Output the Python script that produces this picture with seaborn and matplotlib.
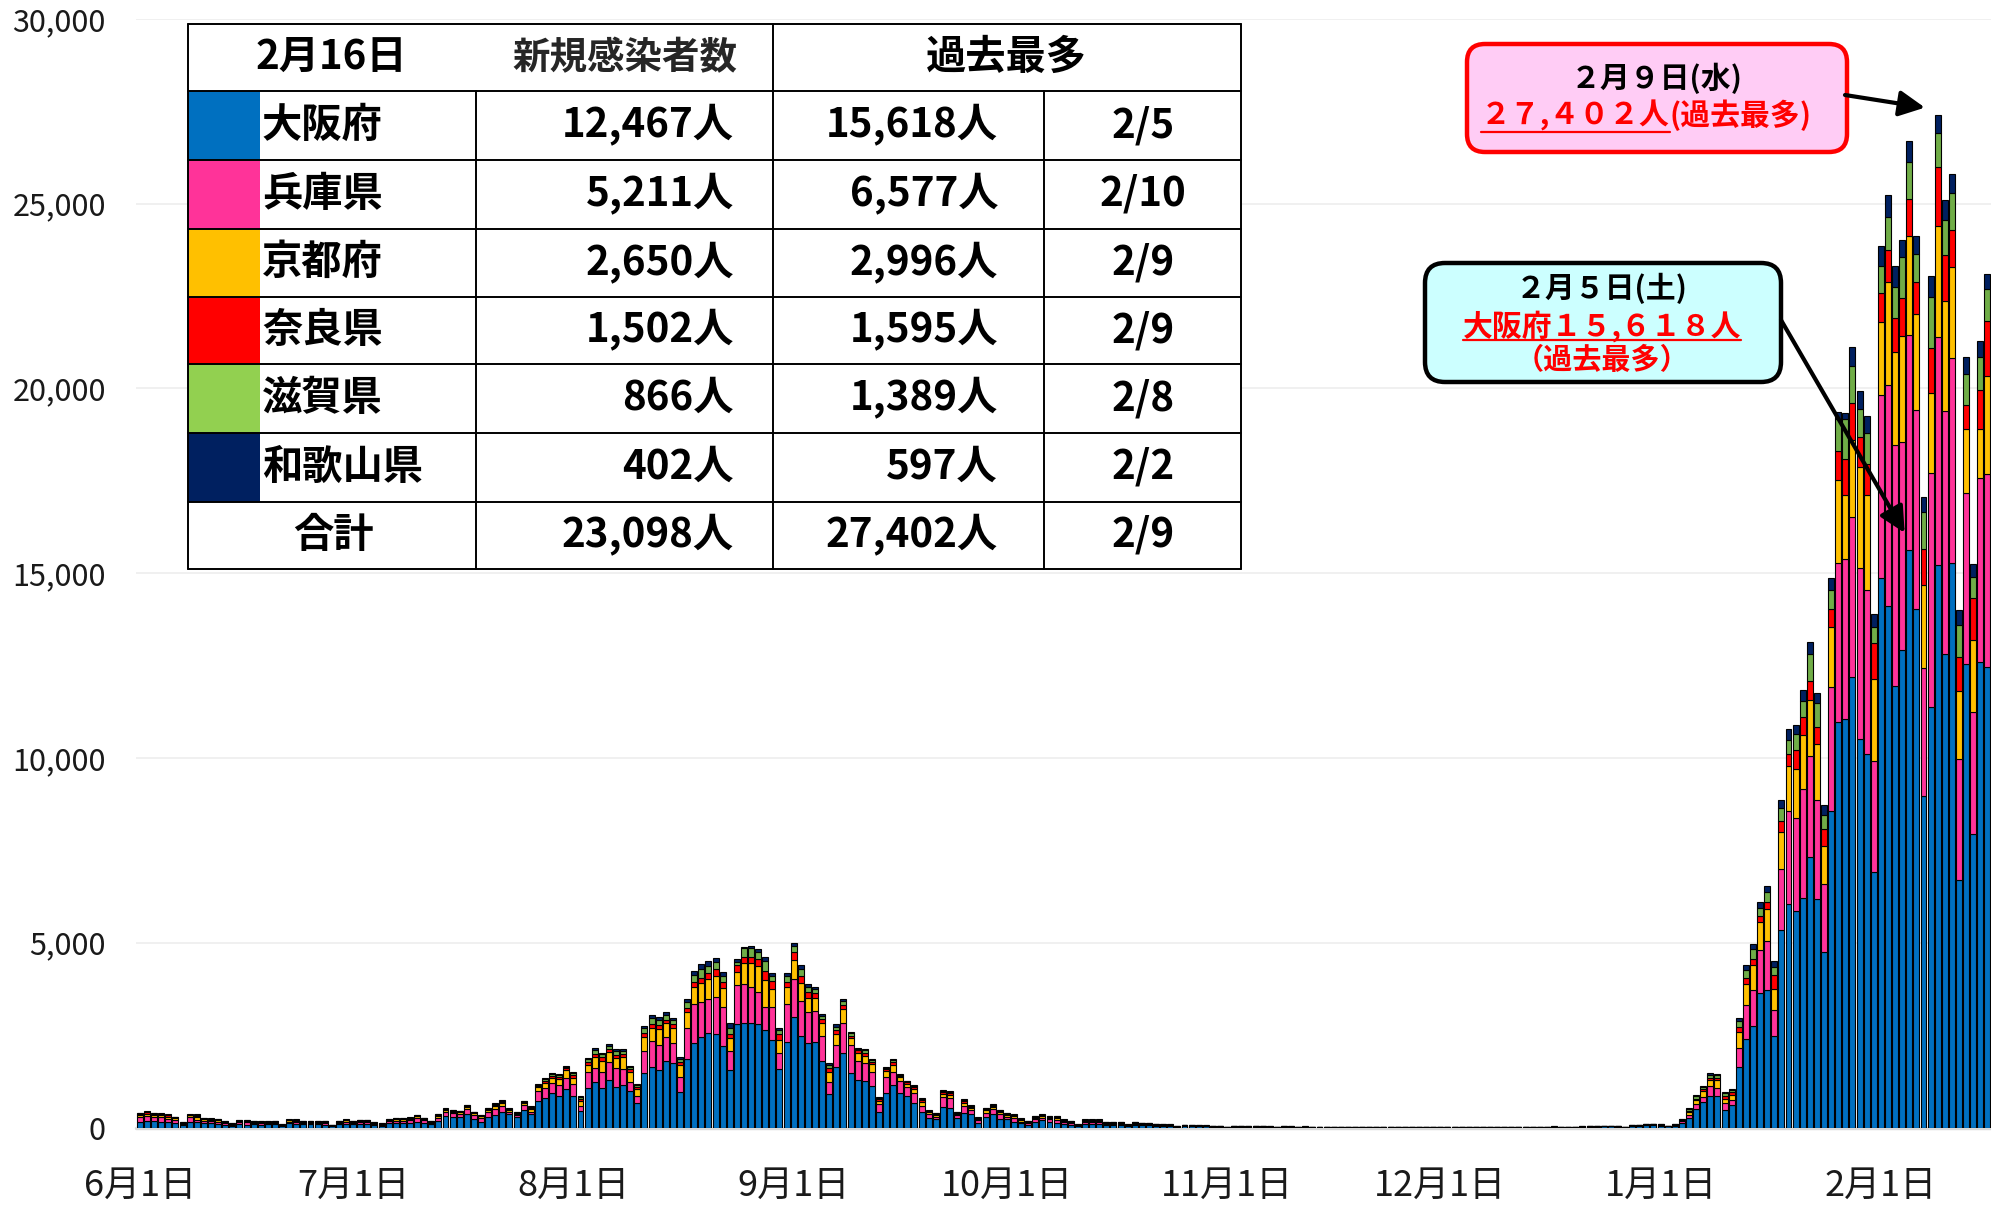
import numpy as np
import pandas as pd
import matplotlib
matplotlib.use("Agg")
import matplotlib.pyplot as plt
import seaborn as sns
from matplotlib.patches import FancyBboxPatch, Rectangle

# prefectures, bottom of the stack first
prefs = ["大阪府", "兵庫県", "京都府", "奈良県", "滋賀県", "和歌山県"]
bar_colors = ["#0070C0", "#FF3399", "#FFC000", "#FF0000", "#70AD47", "#002060"]
swatch_colors = ["#0070C0", "#FF3399", "#FFC000", "#FF0000", "#92D050", "#002060"]

# daily new cases, 2021-06-01 .. 2022-02-16 (one line per month)
osaka = [
    160, 185, 185, 158, 158, 131, 60, 158, 140, 113, 113, 100, 75, 50, 95, 80, 85, 80, 85, 85, 35, 110, 100, 90, 90, 85, 80, 30, 85, 105,
    90, 100, 100, 70, 50, 110, 125, 125, 130, 160, 130, 85, 180, 320, 293, 275, 356, 221, 140, 275, 340, 428, 365, 275, 473, 365, 726, 789, 924, 861, 1033,
    861, 447, 1060, 1222, 1060, 1285, 1087, 1150, 988, 654, 1484, 1646, 1556, 1808, 1754, 952, 1845, 2277, 2440, 2566, 2530, 2205, 1556, 2792, 2819, 2819, 2792, 2638, 2368, 1574, 2323,
    3004, 2476, 2296, 2323, 1808, 897, 1646, 2007, 1484, 1285, 1267, 1123, 428, 924, 1150, 924, 852, 654, 428, 248, 230, 564, 537, 248, 401, 365, 131, 275, 365, 230,
    230, 158, 113, 68, 158, 203, 140, 131, 95, 68, 40, 95, 95, 95, 60, 70, 60, 35, 70, 62, 55, 50, 45, 40, 16, 38, 35, 30, 28, 25, 22,
    10, 25, 20, 18, 22, 20, 16, 8, 18, 17, 15, 16, 14, 12, 5, 13, 12, 11, 12, 10, 9, 4, 8, 7, 9, 10, 8, 9, 3, 8,
    7, 8, 9, 8, 7, 3, 8, 9, 10, 9, 10, 8, 4, 10, 12, 14, 16, 15, 14, 8, 18, 22, 25, 28, 30, 26, 14, 38, 45, 55, 60,
    50, 30, 50, 113, 244, 505, 700, 850, 850, 470, 600, 1650, 2397, 2744, 3641, 3723, 2489, 5355, 6038, 5865, 6212, 7334, 6171, 4763, 8568, 10965, 11067, 12189, 10526, 10098, 6905,
    14861, 14127, 11954, 12923, 15618, 14025, 8966, 11373, 15232, 12821, 15269, 6701, 12536, 7956, 12587, 12467,
]
hyogo = [
    130, 126, 90, 135, 72, 80, 40, 135, 72, 70, 60, 60, 45, 30, 50, 60, 45, 45, 40, 45, 25, 50, 55, 45, 45, 48, 50, 18, 45, 55,
    45, 50, 50, 35, 30, 55, 60, 60, 70, 90, 70, 45, 90, 100, 90, 90, 144, 117, 126, 140, 160, 154, 63, 63, 136, 63, 262, 271, 271, 289, 316,
    316, 144, 450, 379, 450, 496, 514, 424, 252, 207, 595, 704, 676, 632, 523, 406, 838, 1064, 965, 911, 1010, 1046, 523, 1064, 1064, 992, 883, 631, 901, 433, 1018,
    1005, 956, 838, 829, 668, 343, 586, 812, 748, 523, 469, 387, 199, 451, 360, 343, 253, 288, 163, 117, 63, 252, 252, 90, 190, 109, 72, 126, 127, 126,
    63, 108, 45, 50, 72, 63, 81, 72, 60, 50, 20, 50, 55, 50, 40, 35, 40, 20, 35, 30, 28, 25, 22, 20, 10, 18, 16, 15, 14, 12, 10,
    5, 10, 9, 8, 9, 8, 7, 4, 7, 7, 6, 6, 5, 5, 3, 5, 4, 4, 5, 4, 3, 2, 3, 3, 3, 4, 3, 3, 1, 3,
    3, 3, 3, 3, 2, 1, 3, 3, 4, 3, 4, 3, 2, 4, 5, 5, 6, 5, 5, 3, 6, 8, 9, 10, 12, 10, 6, 14, 16, 20, 22,
    20, 12, 20, 50, 90, 120, 135, 270, 210, 200, 150, 510, 918, 979, 1173, 1326, 693, 1632, 2520, 2499, 2937, 2713, 2693, 1836, 3356, 4325, 4325, 4346, 4621, 4457, 3009,
    4968, 5973, 6521, 5624, 5835, 5398, 3478, 6353, 6159, 6577, 5552, 3264, 4649, 3284, 4986, 5211,
]
kyoto = [
    50, 60, 60, 50, 60, 40, 20, 35, 60, 40, 35, 35, 25, 15, 30, 30, 28, 25, 25, 22, 12, 30, 30, 25, 25, 25, 25, 10, 25, 30,
    27, 28, 30, 20, 18, 30, 35, 35, 40, 50, 40, 28, 50, 50, 50, 50, 60, 50, 40, 70, 80, 72, 35, 40, 50, 60, 99, 153, 154, 153, 207,
    172, 135, 181, 297, 298, 271, 271, 343, 270, 172, 361, 333, 424, 379, 406, 333, 433, 451, 496, 532, 559, 515, 334, 361, 559, 631, 695, 727, 470, 361, 451,
    523, 469, 361, 343, 343, 270, 298, 378, 181, 217, 199, 199, 99, 163, 181, 100, 80, 100, 90, 50, 50, 100, 100, 40, 80, 60, 35, 60, 70, 50,
    45, 40, 40, 30, 40, 40, 40, 50, 30, 30, 12, 35, 35, 35, 25, 25, 25, 15, 25, 20, 18, 15, 14, 12, 6, 10, 10, 8, 8, 7, 6,
    3, 6, 5, 5, 5, 4, 4, 2, 4, 3, 3, 3, 3, 2, 1, 2, 2, 2, 2, 2, 2, 1, 2, 1, 2, 2, 1, 2, 1, 2,
    1, 2, 2, 1, 1, 1, 1, 2, 2, 2, 2, 1, 1, 2, 2, 3, 3, 3, 2, 2, 3, 4, 5, 6, 6, 5, 3, 8, 10, 12, 12,
    10, 6, 10, 30, 80, 110, 153, 160, 225, 90, 135, 430, 581, 683, 745, 857, 561, 1020, 1224, 1326, 1479, 1530, 1509, 1020, 1632, 2238, 1730, 2075, 2741, 2567, 2214,
    1958, 2769, 2500, 2879, 2662, 2589, 2234, 2148, 2996, 2978, 2464, 1836, 1714, 1959, 1326, 2650,
]
nara = [
    25, 35, 30, 20, 35, 20, 10, 15, 40, 20, 20, 18, 15, 8, 14, 15, 14, 12, 12, 12, 6, 15, 18, 12, 14, 14, 12, 5, 11, 15,
    12, 13, 12, 8, 8, 14, 15, 15, 18, 20, 15, 10, 20, 25, 22, 22, 25, 22, 18, 25, 30, 30, 20, 20, 25, 40, 30, 50, 55, 60, 45,
    60, 50, 80, 100, 90, 80, 90, 80, 60, 60, 120, 130, 120, 100, 110, 80, 120, 140, 150, 170, 190, 180, 130, 180, 163, 181, 181, 240, 235, 162, 150,
    226, 190, 180, 150, 130, 100, 100, 130, 70, 60, 80, 60, 40, 50, 70, 40, 40, 50, 50, 25, 25, 45, 40, 20, 40, 30, 15, 30, 30, 30,
    25, 20, 20, 15, 15, 20, 20, 25, 15, 15, 6, 15, 15, 18, 15, 12, 15, 8, 12, 10, 10, 8, 8, 6, 3, 5, 5, 4, 4, 4, 3,
    2, 3, 3, 2, 3, 2, 2, 1, 2, 2, 2, 2, 1, 1, 1, 1, 1, 1, 1, 1, 1, 0, 1, 1, 1, 1, 1, 1, 0, 1,
    1, 1, 1, 1, 0, 0, 1, 1, 1, 1, 1, 1, 0, 1, 1, 1, 2, 1, 1, 1, 2, 2, 2, 3, 3, 2, 1, 4, 4, 5, 6,
    5, 3, 6, 15, 40, 40, 60, 70, 50, 100, 70, 130, 154, 154, 153, 204, 388, 275, 326, 520, 480, 510, 459, 459, 489, 785, 965, 1011, 812, 839, 979,
    794, 885, 929, 1019, 1010, 857, 982, 1218, 1595, 1245, 992, 939, 659, 1122, 1047, 1502,
]
shiga = [
    20, 25, 25, 15, 25, 14, 6, 8, 30, 15, 12, 10, 10, 6, 8, 12, 8, 9, 9, 8, 5, 10, 12, 8, 7, 8, 6, 3, 6, 10,
    7, 8, 7, 5, 5, 8, 9, 9, 12, 12, 8, 6, 12, 15, 13, 13, 16, 12, 10, 18, 25, 35, 20, 20, 25, 35, 40, 60, 45, 50, 45,
    60, 55, 75, 90, 80, 85, 100, 80, 60, 50, 120, 150, 130, 130, 110, 80, 160, 200, 230, 200, 180, 160, 160, 90, 243, 225, 207, 280, 130, 100, 150,
    150, 200, 130, 100, 80, 80, 100, 100, 70, 50, 70, 50, 40, 35, 60, 25, 25, 35, 35, 20, 20, 35, 40, 20, 30, 30, 12, 30, 30, 25,
    25, 20, 20, 12, 15, 20, 20, 20, 12, 12, 5, 15, 12, 14, 10, 10, 10, 5, 10, 8, 6, 6, 5, 4, 2, 4, 3, 3, 3, 2, 2,
    1, 2, 2, 2, 2, 1, 1, 1, 1, 1, 1, 1, 1, 1, 0, 1, 1, 1, 1, 0, 0, 0, 0, 0, 1, 0, 0, 0, 0, 0,
    0, 0, 1, 0, 0, 0, 0, 0, 0, 1, 0, 0, 0, 1, 1, 1, 1, 1, 1, 0, 1, 1, 2, 2, 2, 2, 1, 3, 3, 4, 4,
    4, 2, 4, 12, 50, 70, 55, 80, 80, 65, 65, 155, 224, 275, 224, 255, 224, 378, 388, 449, 438, 734, 643, 388, 510, 850, 1083, 975, 740, 830, 449,
    740, 884, 839, 1110, 993, 776, 993, 1389, 930, 930, 1011, 846, 839, 591, 893, 866,
]
wakayama = [
    15, 15, 11, 5, 15, 8, 4, 5, 14, 8, 8, 7, 6, 4, 6, 6, 5, 5, 5, 4, 3, 6, 6, 5, 4, 5, 3, 2, 4, 6,
    4, 4, 4, 2, 2, 4, 4, 4, 5, 6, 3, 2, 4, 9, 6, 6, 8, 6, 4, 9, 15, 25, 15, 10, 15, 25, 20, 30, 30, 35, 25,
    40, 30, 43, 54, 47, 43, 62, 47, 42, 34, 75, 81, 75, 67, 51, 47, 81, 103, 134, 126, 127, 93, 116, 63, 45, 72, 63, 110, 68, 53, 98,
    75, 106, 69, 48, 42, 46, 61, 50, 40, 25, 39, 26, 28, 23, 33, 16, 17, 23, 23, 14, 13, 19, 19, 10, 21, 15, 10, 16, 14, 13,
    13, 10, 10, 10, 11, 10, 10, 13, 9, 10, 3, 11, 9, 9, 8, 6, 8, 3, 6, 5, 4, 3, 3, 2, 1, 2, 2, 2, 1, 1, 1,
    1, 1, 1, 1, 1, 1, 1, 0, 1, 1, 0, 1, 0, 0, 0, 0, 0, 0, 0, 0, 0, 0, 0, 0, 0, 0, 0, 0, 0, 0,
    0, 0, 0, 0, 0, 0, 0, 0, 0, 0, 0, 0, 0, 0, 0, 0, 0, 0, 0, 0, 1, 1, 1, 1, 1, 1, 0, 1, 2, 2, 2,
    2, 1, 2, 5, 20, 30, 24, 45, 30, 30, 30, 75, 132, 132, 174, 183, 153, 204, 285, 245, 286, 327, 275, 275, 306, 200, 163, 520, 479, 469, 336,
    523, 597, 560, 469, 568, 488, 424, 568, 490, 559, 523, 429, 442, 337, 433, 402,
]

dates = pd.date_range("2021-06-01", "2022-02-16", freq="D")
series = [osaka, hyogo, kyoto, nara, shiga, wakayama]

df = pd.DataFrame({p: v for p, v in zip(prefs, series)})
df["day"] = np.arange(len(dates))
long = df.melt(id_vars="day", var_name="pref", value_name="cases")
total = df[prefs].sum(axis=1)

sns.set_theme(style="white")
plt.rcParams["font.family"] = ["Noto Sans CJK JP", "DejaVu Sans"]

W, H = 1991, 1207
fig = plt.figure(figsize=(W / 100, H / 100), dpi=100)
ax = fig.add_axes([136.4 / W, 1 - 1127.5 / H, (W - 136.4) / W, (1127.5 - 19) / H])

# seaborn stacks the last hue level at the bottom, so reverse the order
sns.histplot(data=long, x="day", weights="cases", hue="pref", hue_order=prefs[::-1],
             multiple="stack", discrete=True, shrink=0.84,
             palette=dict(zip(prefs, bar_colors)), edgecolor="black",
             linewidth=0.8, alpha=1, legend=False, ax=ax)

ax.set_xlim(-0.5, len(dates) - 0.5)
ax.set_ylim(0, 30000)
yt = list(range(0, 30001, 5000))
ax.set_yticks(yt)
ax.set_yticklabels([f"{v:,}" for v in yt])
month_starts = [i for i, d in enumerate(dates) if d.day == 1]
ax.set_xticks(month_starts)
ax.set_xticklabels([f"{dates[i].month}月1日" for i in month_starts])
ax.tick_params(axis="x", length=0, pad=29, labelsize=26, labelcolor="#1a1a1a")
ax.tick_params(axis="y", length=0, pad=22, labelsize=22, labelcolor="#1a1a1a")
ax.set_xlabel("")
ax.set_ylabel("")
ax.yaxis.grid(True, color="#EEEEEE", lw=1.2)
ax.set_axisbelow(True)
for s in ax.spines.values():
    s.set_visible(False)
ax.axhline(0, color="#D9D9D9", lw=2.5, zorder=0.5, clip_on=False)

# overlay in pixel coordinates for the table and the call-outs
ov = fig.add_axes([0, 0, 1, 1], zorder=5)
ov.set_xlim(0, W)
ov.set_ylim(H, 0)
ov.axis("off")
ov.patch.set_alpha(0)

rows_y = [24.1, 91.4, 160.0, 228.5, 297.1, 364.4, 433.0, 501.5, 568.8]
cols_x = [187.9, 476.1, 773.2, 1043.7, 1240.5]
sw_r = 260.3
lw_t = 1.4

ov.add_patch(Rectangle((cols_x[0], rows_y[0]), cols_x[-1] - cols_x[0], rows_y[-1] - rows_y[0],
                       fc="white", ec="none"))
for i, c in enumerate(swatch_colors):
    ov.add_patch(Rectangle((cols_x[0], rows_y[i + 1]), sw_r - cols_x[0],
                           rows_y[i + 2] - rows_y[i + 1], fc=c, ec="none"))
for y in rows_y:
    ov.plot([cols_x[0], cols_x[-1]], [y, y], color="black", lw=lw_t)
for x in [cols_x[0], cols_x[2], cols_x[-1]]:
    ov.plot([x, x], [rows_y[0], rows_y[-1]], color="black", lw=lw_t)
for x in [cols_x[1], cols_x[3]]:
    ov.plot([x, x], [rows_y[1], rows_y[-1]], color="black", lw=lw_t)

fs = 29
tk = dict(fontsize=fs, fontweight="bold", va="center", color="black")
last = dates[-1]
hy = (rows_y[0] + rows_y[1]) / 2
ov.text(331, hy, f"{last.month}月{last.day}日", ha="center", **tk)
ov.text((cols_x[1] + cols_x[2]) / 2, hy, "新規感染者数", ha="center",
        fontsize=27, fontweight="bold", va="center")
ov.text((cols_x[2] + cols_x[-1]) / 2, hy, "過去最多", ha="center", **tk)

names = prefs + ["合計"]
cols_vals = [df[p] for p in prefs] + [total]
for i, (name, vals) in enumerate(zip(names, cols_vals)):
    cy = (rows_y[i + 1] + rows_y[i + 2]) / 2
    if name == "合計":
        ov.text(333, cy, name, ha="center", **tk)
    else:
        ov.text(262, cy, name, ha="left", **tk)
    imax = int(np.argmax(vals.values))
    ov.text(734, cy, f"{int(vals.iloc[-1]):,}人", ha="right", **tk)
    ov.text(998, cy, f"{int(vals.iloc[imax]):,}人", ha="right", **tk)
    ov.text(1143, cy, f"{dates[imax].month}/{dates[imax].day}", ha="center", **tk)

# call-outs
fw = str.maketrans("0123456789", "０１２３４５６７８９")
wd = "月火水木金土日"
i_peak = int(np.argmax(total.values))
i_osk = int(np.argmax(df["大阪府"].values))
peak = int(total.iloc[i_peak])
osk = int(df["大阪府"].iloc[i_osk])


def jdate(d):
    return f"{d.month}月{d.day}日".translate(fw) + f"({wd[d.weekday()]})"


ov.add_patch(FancyBboxPatch((1467, 44), 380, 108, boxstyle="round,pad=0,rounding_size=18",
                            fc="#FFCCF5", ec="#FF0000", lw=3.2))
ov.add_patch(FancyBboxPatch((1425, 263), 356, 119, boxstyle="round,pad=0,rounding_size=20",
                            fc="#CCFFFF", ec="black", lw=3.2))

ck = dict(fontsize=21.5, fontweight="bold", va="center")
ov.text(1657, 78, jdate(dates[i_peak]), ha="center", color="black", **ck)
t1 = ov.text(1670, 115, f"{peak:,}".translate(fw) + "人", ha="right", color="#FF0000", **ck)
ov.text(1670, 115, "(過去最多)", ha="left", color="#FF0000", **ck)

ov.text(1602, 288, jdate(dates[i_osk]), ha="center", color="black", **ck)
t2 = ov.text(1602, 326, "大阪府" + f"{osk:,}".translate(fw) + "人", ha="center", color="#FF0000", **ck)
ov.text(1602, 360, "（過去最多）", ha="center", color="#FF0000", fontsize=21,
        fontweight="bold", va="center")

arrow = dict(arrowstyle="-|>,head_length=0.6,head_width=0.3", color="black", lw=3,
             mutation_scale=26, shrinkA=0, shrinkB=0)
ov.annotate("", xy=(i_peak - 1.8, peak + 200), xycoords=ax.transData,
            xytext=(1845, 95), textcoords="data", arrowprops=arrow)
ov.annotate("", xy=(i_osk - 0.65, osk + 475), xycoords=ax.transData,
            xytext=(1781, 320), textcoords="data", arrowprops=arrow)

fig.canvas.draw()
rend = fig.canvas.get_renderer()
for t, y in [(t1, 132), (t2, 340)]:
    bb = t.get_window_extent(rend).transformed(ov.transData.inverted())
    ov.plot([bb.x0, bb.x1], [y, y], color="#FF0000", lw=1.6)

fig.savefig("out.png", dpi=100)
